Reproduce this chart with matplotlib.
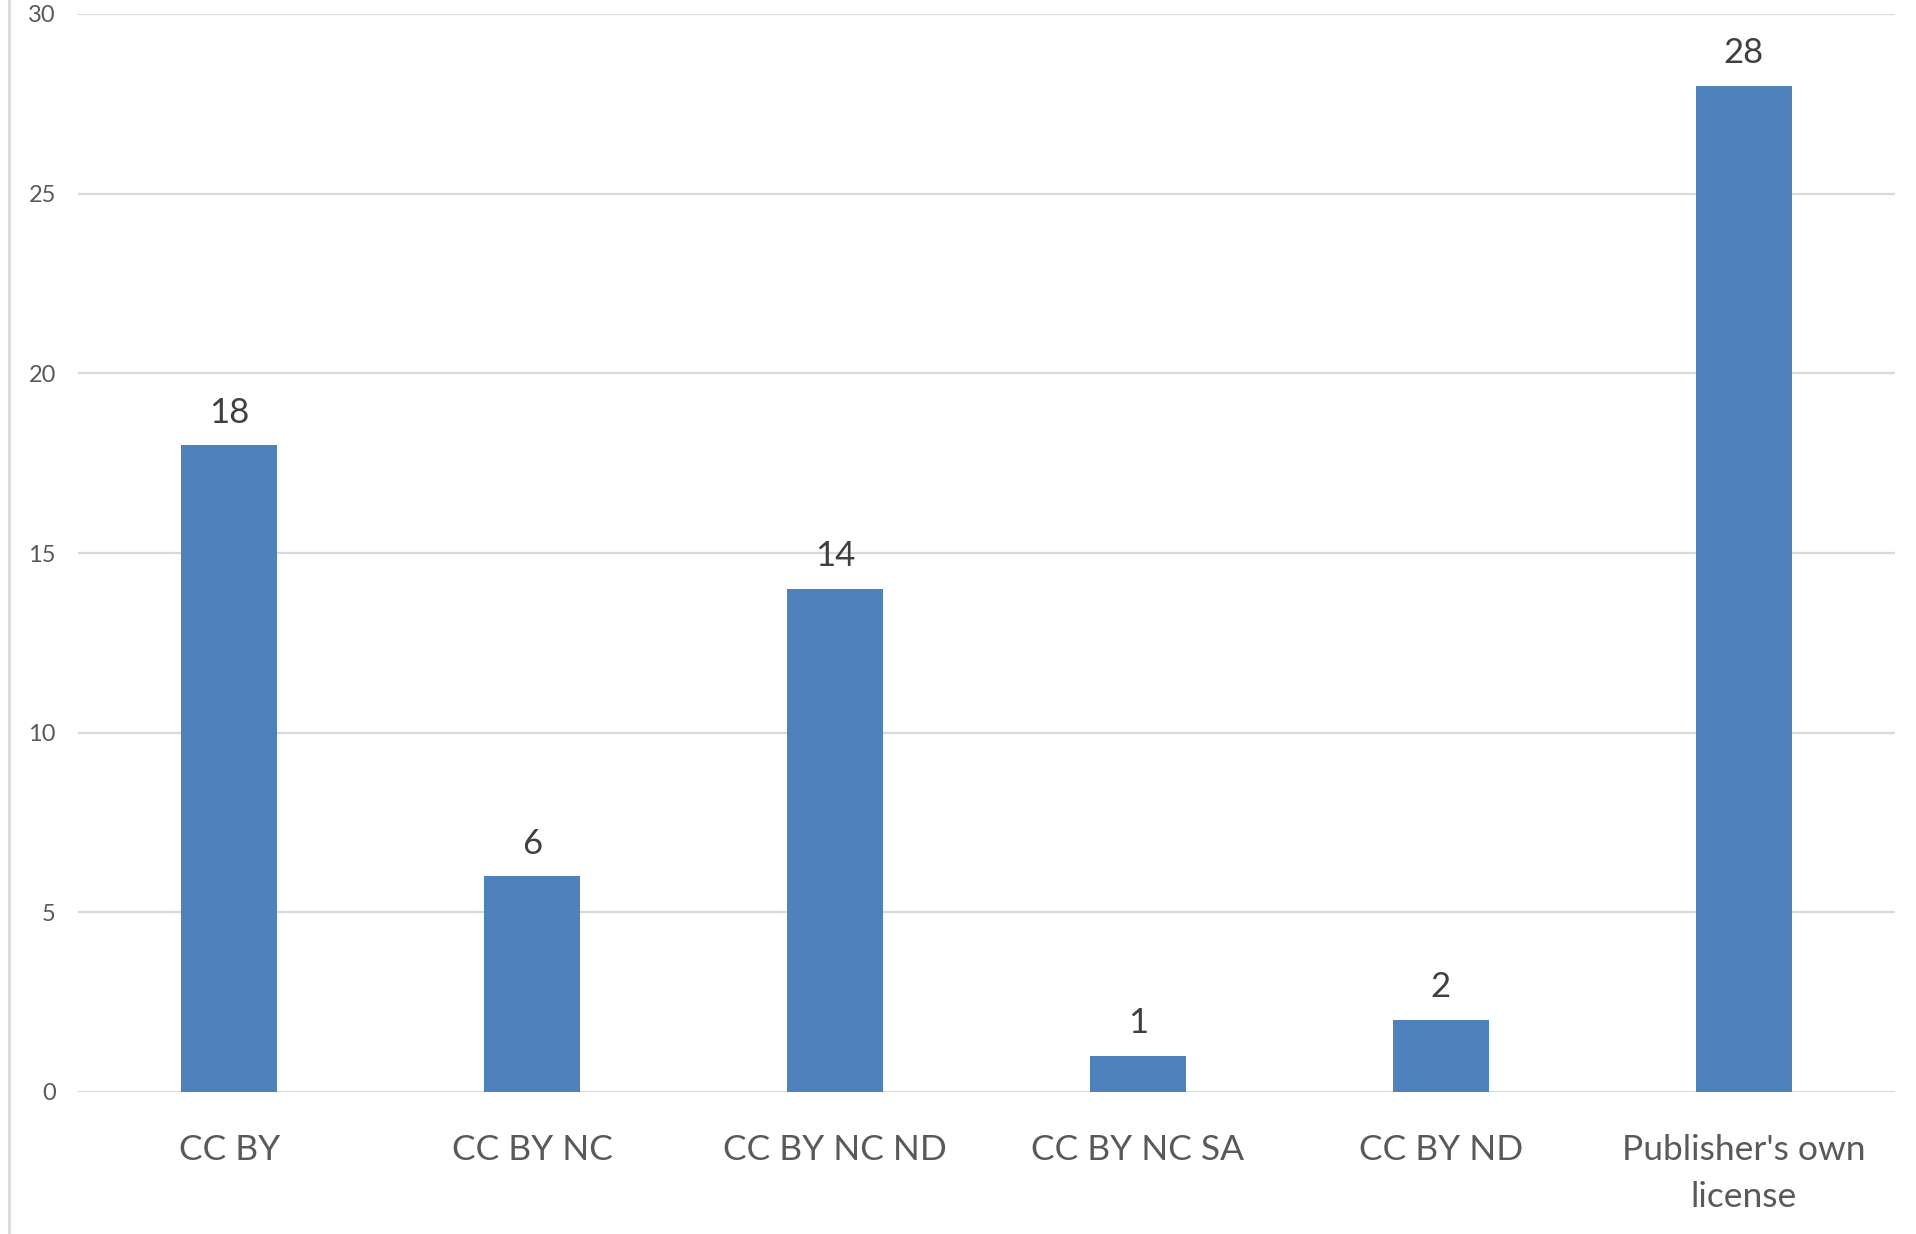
import numpy as np
import matplotlib
matplotlib.use("Agg")
import matplotlib.pyplot as plt
from matplotlib.lines import Line2D

# licence categories and counts
licenses = ["CC BY", "CC BY NC", "CC BY NC ND", "CC BY NC SA", "CC BY ND",
            "Publisher's own\nlicense"]
counts = [18, 6, 14, 1, 2, 28]
yticks = [0, 5, 10, 15, 20, 25, 30]

plt.rcParams["font.family"] = ["Lato", "DejaVu Sans"]

fig = plt.figure(figsize=(19.16, 12.34), dpi=100)
ax = fig.add_axes([78/1916, 1 - 1092/1234, (1895 - 78)/1916, (1092 - 14)/1234])

x = np.arange(len(licenses))
bars = ax.bar(x, counts, width=0.317, color="#4F81BD", zorder=3)

for b, v in zip(bars, counts):
    ax.annotate(str(v), (b.get_x() + b.get_width()/2, v), xytext=(0, 12),
                textcoords="offset points", ha="center", va="bottom",
                fontsize=25, color="#404040")

ax.set_xlim(-0.5, len(licenses) - 0.5)
ax.set_ylim(0, 30)
ax.set_yticks(yticks)
ax.set_xticks(x)
ax.set_xticklabels(licenses, fontsize=25.5, color="#595959", linespacing=1.6)
ax.tick_params(axis="x", length=0, pad=30)
ax.tick_params(axis="y", length=0, pad=16, labelsize=17, labelcolor="#595959")

ax.grid(axis="y", color="#D9D9D9", linewidth=1.6, zorder=0)
for s in ax.spines.values():
    s.set_visible(False)

# thin border on the left edge of the chart area
fig.add_artist(Line2D([9/1916, 9/1916], [0, 1], color="#D9D9D9", linewidth=2))

fig.savefig("out.png", dpi=100, facecolor="white")
